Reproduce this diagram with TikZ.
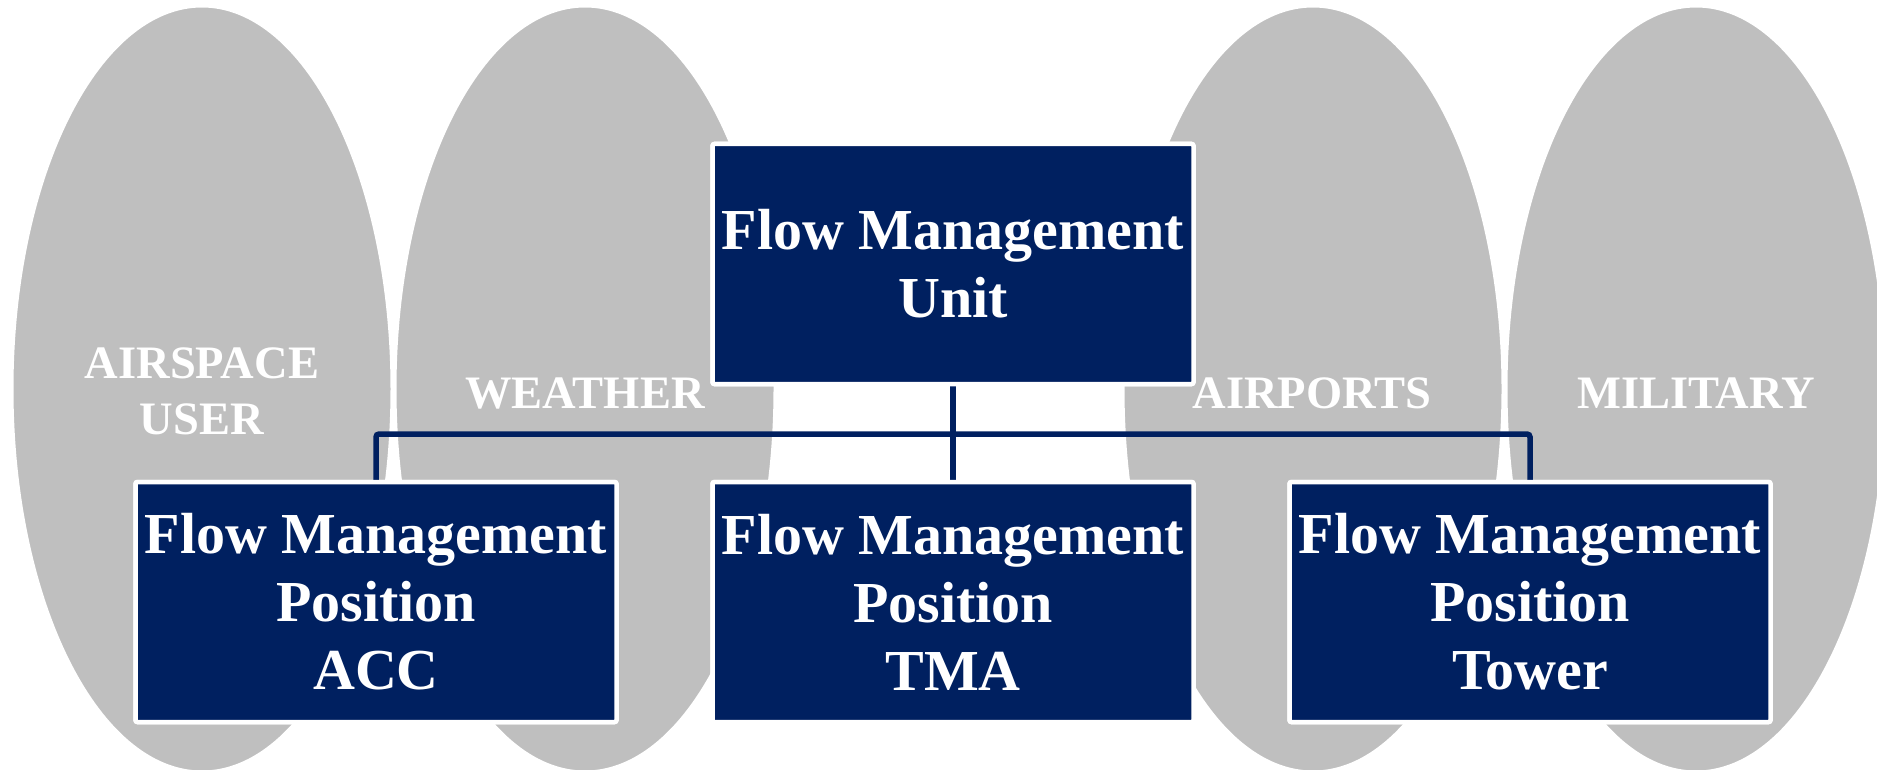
\documentclass[tikz,border=0pt]{standalone}
\usepackage{fontspec}
\setmainfont{Liberation Serif}
\definecolor{navy}{RGB}{0,32,96}
\definecolor{cloud}{RGB}{191,191,191}
\tikzset{
  zone/.style={fill=cloud, draw=white, line width=3pt},
  zonelabel/.style={text=white, font=\bfseries\fontsize{46.5}{56}\selectfont, align=center, anchor=base, inner sep=0pt},
  unitbox/.style={fill=navy, draw=white, line width=4.5pt, rounded corners=2pt,
    minimum width=481pt, minimum height=240pt, inner sep=0pt,
    text=white, align=center, font=\bfseries\fontsize{58}{68}\selectfont},
  conn/.style={draw=navy, line width=5.5pt, rounded corners=3pt}
}
\begin{document}
\begin{tikzpicture}[x=1pt, y=-1pt]
\useasboundingbox (0,0) rectangle (1877,770);

% surrounding domains
\path[zone] (202,389) ellipse [x radius=190, y radius=383];
\path[zone] (585,389) ellipse [x radius=190, y radius=383];
\path[zone] (1313,389) ellipse [x radius=190, y radius=383];
\path[zone] (1696,389) ellipse [x radius=190, y radius=383];

\node[zonelabel] (lairspace) at (202,434) {AIRSPACE\\USER};
\node[zonelabel] (lweather) at (585,408) {WEATHER};
\node[zonelabel] (lairports) at (1312,408) {AIRPORTS};
\node[zonelabel] (lmilitary) at (1696,408) {MILITARY};

% organisation
\node[unitbox] (fmu) at (953,264) {Flow Management\\Unit};
\node[unitbox] (acc) at (376,602) {Flow Management\\Position\\ACC};
\node[unitbox] (tma) at (953,602) {Flow Management\\Position\\TMA};
\node[unitbox] (tower) at (1530,602) {Flow Management\\Position\\Tower};

\coordinate (bus) at (953,434);
\draw[conn] (fmu.south) -- (tma.north);
\draw[conn] (acc.north) -- (acc.north |- bus) -- (tower.north |- bus) -- (tower.north);

% boxes redrawn on top of the connector ends
\node[unitbox] at (fmu) {Flow Management\\Unit};
\node[unitbox] at (acc) {Flow Management\\Position\\ACC};
\node[unitbox] at (tma) {Flow Management\\Position\\TMA};
\node[unitbox] at (tower) {Flow Management\\Position\\Tower};
\end{tikzpicture}
\end{document}
